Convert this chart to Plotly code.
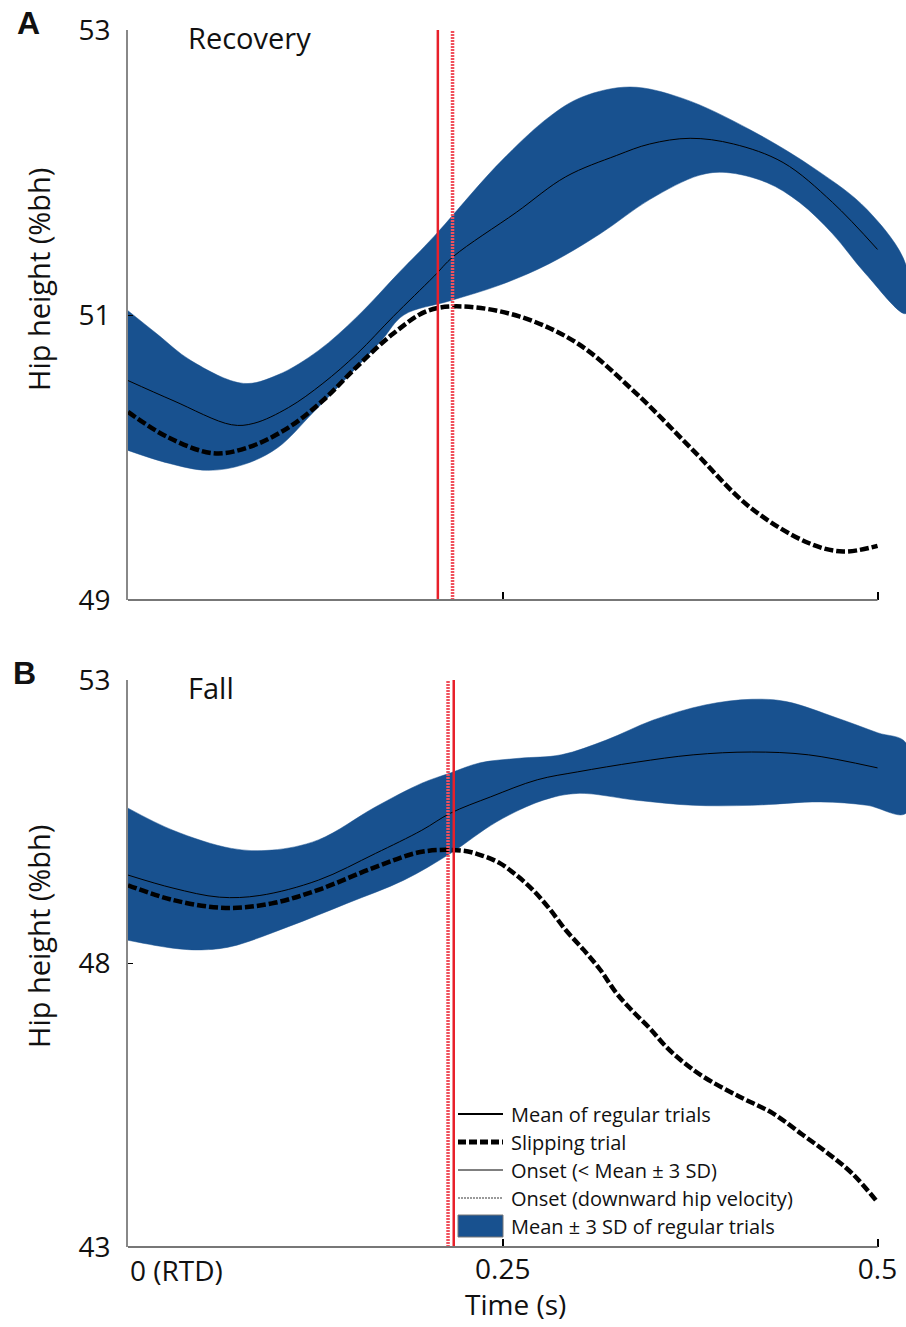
import plotly.graph_objects as go

# ---------------- Panel A (Recovery) ----------------
t_a_upper = [0, 0.019, 0.042, 0.077, 0.1, 0.127, 0.153, 0.181, 0.204, 0.248, 0.281, 0.303,
             0.335, 0.37, 0.415, 0.459, 0.493, 0.519]
a_upper = [51.03, 50.87, 50.68, 50.52, 50.58, 50.75, 50.99, 51.30, 51.55, 52.07, 52.39, 52.53,
           52.60, 52.52, 52.30, 52.02, 51.74, 51.35]
t_a_lower = [0, 0.027, 0.053, 0.077, 0.1, 0.123, 0.146, 0.169, 0.184, 0.215, 0.248, 0.281,
             0.315, 0.348, 0.381, 0.399, 0.426, 0.448, 0.47, 0.492, 0.519]
a_lower = [50.05, 49.96, 49.91, 49.95, 50.07, 50.31, 50.56, 50.82, 51.00, 51.10, 51.21, 51.36,
           51.57, 51.81, 51.98, 52.00, 51.93, 51.79, 51.57, 51.29, 51.01]
t_a_mean = [0, 0.03, 0.069, 0.084, 0.107, 0.13, 0.153, 0.177, 0.204, 0.217, 0.259, 0.292,
            0.326, 0.348, 0.375, 0.404, 0.437, 0.47, 0.5]
a_mean = [50.54, 50.40, 50.23, 50.24, 50.35, 50.52, 50.73, 50.99, 51.27, 51.41, 51.72, 51.97,
          52.12, 52.20, 52.24, 52.20, 52.07, 51.79, 51.46]
t_a_slip = [0, 0.027, 0.057, 0.08, 0.107, 0.13, 0.153, 0.177, 0.2, 0.223, 0.261, 0.3,
            0.339, 0.377, 0.415, 0.454, 0.477, 0.5]
a_slip = [50.32, 50.14, 50.03, 50.07, 50.21, 50.40, 50.64, 50.87, 51.03, 51.06, 50.99, 50.80,
          50.45, 50.05, 49.65, 49.40, 49.34, 49.38]
a_onset_sd = 0.2067
a_onset_vel = 0.2165

# ---------------- Panel B (Fall) ----------------
t_b_upper = [0, 0.03, 0.069, 0.096, 0.127, 0.165, 0.196, 0.215, 0.235, 0.261, 0.289, 0.319,
             0.35, 0.385, 0.416, 0.439, 0.473, 0.5, 0.519]
b_upper = [50.74, 50.35, 50.03, 50.00, 50.18, 50.76, 51.18, 51.36, 51.54, 51.62, 51.68, 51.94,
           52.29, 52.56, 52.66, 52.62, 52.33, 52.07, 51.89]
t_b_lower = [0, 0.03, 0.049, 0.069, 0.107, 0.146, 0.184, 0.215, 0.246, 0.277, 0.3, 0.339,
             0.377, 0.416, 0.462, 0.493, 0.519]
b_lower = [48.41, 48.27, 48.24, 48.30, 48.65, 49.06, 49.47, 49.94, 50.50, 50.88, 51.00, 50.88,
           50.79, 50.79, 50.85, 50.79, 50.65]
t_b_mean = [0, 0.03, 0.061, 0.088, 0.127, 0.165, 0.196, 0.215, 0.242, 0.273, 0.3, 0.339,
            0.377, 0.416, 0.454, 0.5]
b_mean = [49.56, 49.33, 49.17, 49.20, 49.47, 49.94, 50.35, 50.65, 50.94, 51.24, 51.38, 51.55,
          51.68, 51.73, 51.68, 51.45]
t_b_slip = [0, 0.03, 0.065, 0.096, 0.127, 0.165, 0.196, 0.2233, 0.2367, 0.248, 0.259, 0.270,
            0.281, 0.292, 0.304, 0.315, 0.326, 0.337, 0.348, 0.359, 0.370, 0.384, 0.408,
            0.43, 0.45, 0.467, 0.483, 0.5]
b_slip = [49.38, 49.12, 48.98, 49.06, 49.30, 49.70, 49.97, 49.99, 49.90, 49.77, 49.56, 49.30,
          48.97, 48.59, 48.24, 47.89, 47.47, 47.15, 46.86, 46.53, 46.27, 46.00, 45.65,
          45.36, 44.98, 44.65, 44.30, 43.79]
b_onset_sd = 0.2173
b_onset_vel = 0.2135

# ---------------- Axis ticks / labels ----------------
x_tickvals = [0.25, 0.5]
x_ticktext = ["0.25", "0.5"]
a_yticks = [49, 51, 53]
b_yticks = [43, 48, 53]

legend_labels = ["Mean of regular trials", "Slipping trial", "Onset (< Mean ± 3 SD)",
                 "Onset (downward hip velocity)", "Mean ± 3 SD of regular trials"]

BLUE = "#18518f"
RED = "#e8202a"
RED_DOT = "#f0505c"
FONT = "Open Sans"
TXT = "#111111"

# pixel helpers for the plot-area frame (l=128, plot width 778, plot bottom at 1247, height 1217)
def px_x(px):
    return (px - 128) / 778


def px_y(py):
    return (1247 - py) / 1217


fig = go.Figure()


def add_panel(xa, ya, tu, up, tl, lo, tm, mean, ts, slip):
    fig.add_trace(go.Scatter(
        x=list(tu) + list(tl)[::-1], y=list(up) + list(lo)[::-1],
        fill="toself", fillcolor=BLUE, line=dict(color=BLUE, width=0.5, shape="spline"),
        mode="lines", name=legend_labels[4], showlegend=False, hoverinfo="skip",
        xaxis=xa, yaxis=ya))
    fig.add_trace(go.Scatter(
        x=tm, y=mean, mode="lines", name=legend_labels[0],
        line=dict(color="black", width=1, shape="spline"),
        showlegend=False, xaxis=xa, yaxis=ya))
    fig.add_trace(go.Scatter(
        x=ts, y=slip, mode="lines", name=legend_labels[1],
        line=dict(color="black", width=4.5, dash="9px,3px", shape="spline"),
        showlegend=False, xaxis=xa, yaxis=ya))


add_panel("x", "y", t_a_upper, a_upper, t_a_lower, a_lower, t_a_mean, a_mean, t_a_slip, a_slip)
add_panel("x2", "y2", t_b_upper, b_upper, t_b_lower, b_lower, t_b_mean, b_mean, t_b_slip, b_slip)

shapes = []
for xr, yr, onset_sd, onset_vel in [("x", "y", a_onset_sd, a_onset_vel),
                                     ("x2", "y2", b_onset_sd, b_onset_vel)]:
    shapes.append(dict(type="line", xref=xr, yref=yr + " domain", x0=onset_vel, x1=onset_vel,
                       y0=0, y1=1, line=dict(color=RED_DOT, width=3.5, dash="2px,1px"), layer="above"))
    shapes.append(dict(type="line", xref=xr, yref=yr + " domain", x0=onset_sd, x1=onset_sd,
                       y0=0, y1=1, line=dict(color=RED, width=2.5), layer="above"))
    # bottom axis line, ending at the last tick
    shapes.append(dict(type="line", xref=xr, yref=yr + " domain", x0=0, x1=x_tickvals[-1],
                       y0=0, y1=0, line=dict(color="#777777", width=2), layer="above"))

# ---- legend (drawn as keys + text) ----
leg_rows = [1114, 1142, 1170, 1198, 1226]
key_x0, key_x1, text_x = 458, 503, 510
key_styles = [dict(color="black", width=2),
              dict(color="black", width=5, dash="8px,3px"),
              dict(color="black", width=1),
              dict(color="#9a9a9a", width=2, dash="2px,1px")]
for row, st in zip(leg_rows[:4], key_styles):
    shapes.append(dict(type="line", xref="paper", yref="paper", x0=px_x(key_x0), x1=px_x(key_x1),
                       y0=px_y(row), y1=px_y(row), line=st, layer="above"))
shapes.append(dict(type="rect", xref="paper", yref="paper", x0=px_x(key_x0), x1=px_x(key_x1),
                   y0=px_y(leg_rows[4] + 11), y1=px_y(leg_rows[4] - 11), fillcolor=BLUE,
                   line=dict(color="#777777", width=1), layer="above"))

dA = [1 - 570 / 1217, 1]
dB = [0, 1 - 650 / 1217]

tickfont = dict(family=FONT, size=28, color=TXT)
xcommon = dict(range=[0, 0.519], showline=False, showgrid=False, zeroline=False,
               ticks="inside", ticklen=8, tickcolor="black", tickwidth=1.5,
               tickvals=x_tickvals, ticktext=x_ticktext, tickfont=tickfont, domain=[0, 1])
ycommon = dict(showline=True, linecolor="#888888", linewidth=1.5, showgrid=False, zeroline=False,
               ticks="inside", ticklen=5, tickcolor="black", tickwidth=1, tickfont=tickfont,
               ticklabelstandoff=10)

fig.update_layout(
    width=906, height=1327,
    margin=dict(l=128, r=0, t=30, b=80),
    paper_bgcolor="white", plot_bgcolor="white",
    font=dict(family=FONT, color=TXT),
    xaxis=dict(xcommon, anchor="y", showticklabels=False),
    yaxis=dict(ycommon, range=[49, 53], tickvals=a_yticks, domain=dA, anchor="x"),
    xaxis2=dict(xcommon, anchor="y2", showticklabels=True, ticklabelstandoff=3),
    yaxis2=dict(ycommon, range=[43, 53], tickvals=b_yticks, domain=dB, anchor="x2"),
    shapes=shapes,
    showlegend=False,
)

ann = []
ann.append(dict(text="<b>A</b>", xref="paper", yref="paper", x=px_x(28), y=px_y(23),
                showarrow=False, xanchor="center", yanchor="middle",
                font=dict(family="Liberation Sans", size=32, color=TXT)))
ann.append(dict(text="<b>B</b>", xref="paper", yref="paper", x=px_x(24), y=px_y(673),
                showarrow=False, xanchor="center", yanchor="middle",
                font=dict(family="Liberation Sans", size=32, color=TXT)))
ann.append(dict(text="Recovery", xref="paper", yref="paper", x=px_x(186), y=px_y(37),
                showarrow=False, xanchor="left", yanchor="middle",
                font=dict(family=FONT, size=29, color=TXT)))
ann.append(dict(text="Fall", xref="paper", yref="paper", x=px_x(186), y=px_y(687),
                showarrow=False, xanchor="left", yanchor="middle",
                font=dict(family=FONT, size=29, color=TXT)))
for yc in [280, 937]:
    ann.append(dict(text="Hip height (%bh)", xref="paper", yref="paper", x=px_x(38), y=px_y(yc),
                    showarrow=False, xanchor="center", yanchor="middle", textangle=-90,
                    font=dict(family=FONT, size=29, color=TXT)))
ann.append(dict(text="Time (s)", xref="paper", yref="paper", x=px_x(515), y=px_y(1304),
                showarrow=False, xanchor="center", yanchor="middle",
                font=dict(family=FONT, size=28, color=TXT)))
ann.append(dict(text="0 (RTD)", xref="x2", yref="paper", x=0, y=px_y(1270),
                showarrow=False, xanchor="left", yanchor="middle",
                font=dict(family=FONT, size=28, color=TXT)))
for row, lab in zip(leg_rows, legend_labels):
    ann.append(dict(text=lab, xref="paper", yref="paper", x=px_x(text_x), y=px_y(row),
                    showarrow=False, xanchor="left", yanchor="middle", borderpad=0,
                    font=dict(family=FONT, size=20, color=TXT)))
fig.update_layout(annotations=ann)

fig.write_html("out.html", config={"displayModeBar": False},
               post_script="document.body.style.margin='0px';")
